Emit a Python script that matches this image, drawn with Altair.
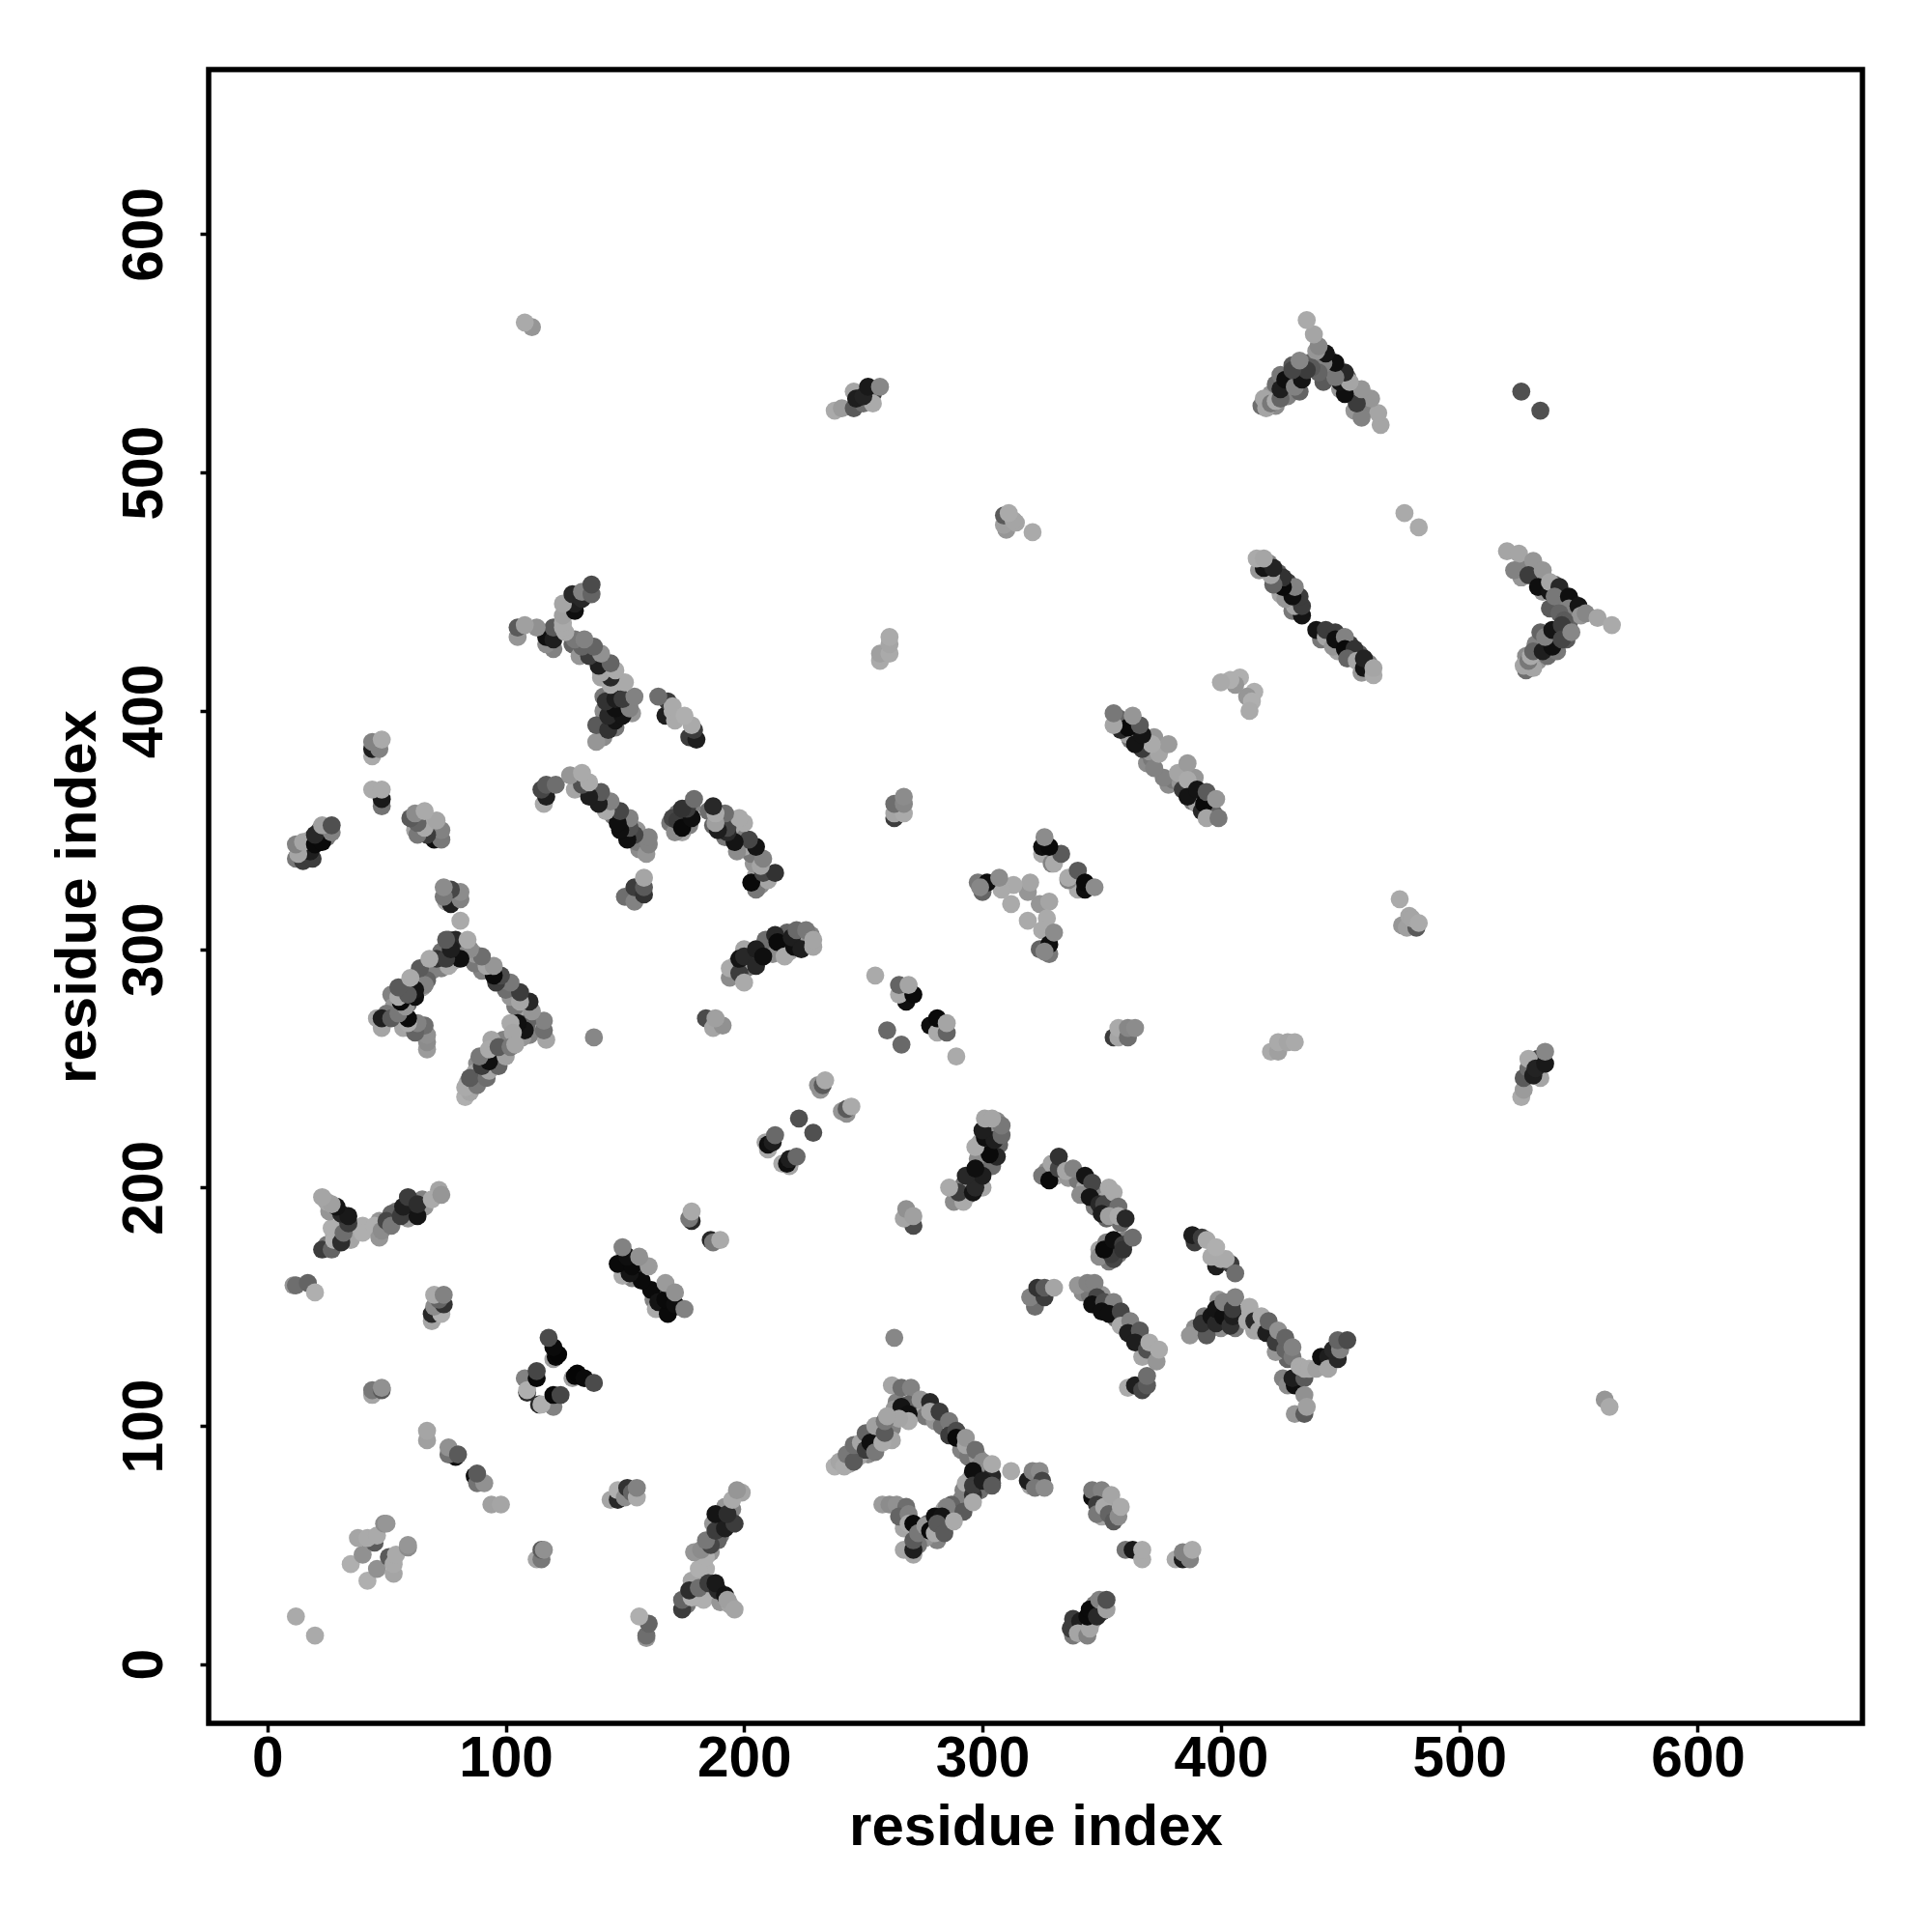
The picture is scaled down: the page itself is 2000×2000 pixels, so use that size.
import altair as alt
import pandas as pd

# Contacts (residue i, residue j, grey level 0-255); the map is symmetric, so each is drawn at (i,j) and (j,i)
near_origin = [(20,12,170),(42,35,175),(46,40,145),(53,38,165),(51,45,90),(53,42,170),(54,46,170),(59,49,140),(59,50,150)]
cl_159_15 = [(159,11,150),(159,12,110),(160,17,100),(156,20,175)]
cl_150_70 = [(144,69,165),(147,69,40),(147,73,175),(150,70,140),(151,74,50),(153,72,100),(155,70,170),(155,74,130)]
cl_115_46 = [(113,44,165),(115,44,120),(115,48,90),(116,48,145)]
cl_88_76 = [(94,67,160),(98,67,165),(87,79,15),(88,76,115),(91,76,145),(88,80,90)]
blobs_120 = [(120,108,130),(114,109,40),(115,109,175),(120,113,8),(123,113,70),(128,120,160),(129,121,8),(130,122,5),(133,120,10),(137,118,75)]
cl_165_155 = [(163,149,170),(161,157,10),(164,152,20),(168,147,10),(167,153,10),(171,151,15),(167,160,155),(171,156,145),(175,149,130)]
cl_188_178 = [(186,178,40),(187,177,120),(190,178,170)]
arm_190_up = [(184,40,175),(181,40,175),(184,45,175),(179,47,150),(182,48,140),(186,50,70),(184,52,120),(188,56,60),(192,57,30),(196,59,60),(188,63,20),(193,63,45),(195,69,170),(197,73,150)]
arm_190_low = [(174,23,60),(174,27,100),(178,28,175),(177,31,45),(181,32,110),(185,34,60),(189,31,40),(188,34,25),(192,29,20),(193,27,160),(196,23,165)]
cl_270_187 = [(271,184,75),(267,187,165),(268,191,145),(271,188,160)]
arm_300_210 = [(288,194,140),(292,194,170),(290,198,60),(286,200,170),(296,198,20),(297,200,40),(293,205,40),(300,205,30),(297,208,15),(306,213,40),(303,214,10),(297,217,170),(301,221,15),(305,220,30),(300,224,30),(308,222,105),(308,226,120),(301,229,165),(304,229,165)]
cl_360_265 = [(355,263,60),(357,263,165),(357,267,170),(361,263,110),(361,267,135),(364,267,140)]
pt_289 = [(289,255,170),(266,260,105),(263,137,135),(312,81,170)]
cl_280_270 = [(278,268,15),(281,265,170),(285,265,100),(281,271,10),(285,269,165)]
cl_243_233 = [(241,232,150),(243,231,145),(243,233,90),(245,234,170),(229,223,80)]
cl_218_211 = [(216,210,170),(219,209,165),(218,210,15),(219,212,30),(222,213,105)]
center_a = [(340,325,170),(336,329,130),(336,330,170),(340,333,90),(343,325,15),(343,328,10),(347,326,140)]
center_b = [(319,312,170),(324,319,150),(328,320,165),(327,313,170),(325,308,170),(324,300,100),(328,298,120),(328,302,15),(326,299,135),(330,307,140)]
long_375 = [(376,372,130),(382,374,165),(384,367,60),(386,378,155),(386,371,170),(386,364,20),(390,367,20),(392,358,40),(393,361,10),(394,366,90),(394,355,165),(399,355,120),(398,363,150)]
arc_340_200a = [(325,205,120),(329,210,165),(328,203,10),(332,208,70),(332,213,50),(335,207,165),(338,208,130),(343,205,20),(346,202,70),(353,200,170)]
arc_340_200b = [(341,197,140),(345,196,20),(349,193,40),(351,193,70),(350,189,30),(355,198,170),(357,192,110),(353,188,160),(357,188,170),(360,187,40),(349,171,140),(355,170,70),(354,172,60),(352,177,130),(351,174,10),(355,178,15),(359,176,60),(359,174,50),(363,179,110)]
cl_395_175 = [(398,167,30),(396,171,170),(400,170,170),(404,168,60),(402,170,170),(389,177,60),(388,180,30),(392,179,60),(394,178,170),(398,175,175),(406,164,110)]
cross_left = [(387,138,150),(394,138,90),(392,143,50),(396,146,20),(398,143,40),(398,149,20),(401,146,15),(401,152,130),(404,142,50),(405,146,30),(405,149,60),(406,154,130)]
cross_mid = [(411,144,170),(412,150,170),(414,144,40),(416,140,165),(417,146,170),(419,139,30),(420,144,100),(423,135,60),(424,140,145),(427,132,100),(427,137,100),(430,129,120),(430,133,130)]
cross_low = [(426,120,130),(428,117,140),(431,117,15),(430,120,30),(435,120,90),(431,105,150),(435,105,90),(435,113,145),(436,108,160)]
cross_right = [(433,125,170),(435,124,170),(437,124,170),(440,124,160),(442,129,15),(445,129,30),(445,124,165),(449,128,40),(447,132,40),(450,132,130),(449,136,100),(453,136,75)]
pair_562 = [(561,111,150),(563,108,170)]
cl_365_117 = [(361,116,170),(364,117,30),(367,115,70),(369,117,90),(369,121,110)]
arc_355_145 = [(340,159,150),(344,160,130),(347,160,130),(348,154,70),(346,151,15),(351,152,80),(355,152,130),(350,148,15),(353,147,15),(358,148,70),(358,142,170),(362,144,130),(361,139,30),(366,140,90),(364,135,30),(369,132,80),(370,135,170),(373,127,150),(374,132,170)]
cl_325_155 = [(322,150,110),(320,154,130),(326,154,60),(323,158,50),(326,158,90),(330,158,165)]
bracket_top = [(262,117,165),(266,116,110),(270,116,130),(269,109,100),(266,108,20),(269,105,15),(269,102,170),(265,103,165),(274,111,150),(278,110,40),(278,106,165),(282,106,60),(286,102,120),(286,96,60),(289,98,75),(289,95,10),(293,92,165),(293,95,150),(297,90,110),(300,85,140),(304,76,90),(304,79,40),(304,84,170)]
bracket_left = [(238,83,175),(240,85,165),(242,83,170),(243,88,120),(246,85,90),(246,92,110),(249,93,165),(251,90,60),(251,97,100),(253,93,15),(255,100,160),(255,89,120),(258,93,170),(259,97,90),(259,102,120),(260,104,165)]
bracket_right = [(287,67,100),(285,66,130),(292,73,130),(292,64,90),(293,76,170),(296,81,15),(296,71,50),(296,75,60),(296,68,170),(300,77,30),(304,75,90)]
bracket_low = [(258,67,155),(261,67,140),(264,67,145),(268,66,110),(265,62,100),(269,63,130),(267,48,165),(271,46,165),(271,48,30),(271,52,90),(269,59,170),(271,59,10),(273,55,120),(276,58,150),(278,56,10),(280,62,15),(280,55,170),(283,62,20),(281,59,90),(284,55,90),(288,60,170)]
cl_322_78 = [(320,75,165),(319,77,30),(321,81,130),(324,81,140),(325,77,70),(322,74,120),(326,74,140)]
cl_350_68 = [(346,70,15),(346,73,120),(350,73,130),(348,67,60),(348,63,120),(351,66,170),(353,63,100),(354,71,165),(355,60,90),(357,62,140),(358,66,170)]
cl_363_47 = [(360,48,115),(363,48,25),(367,44,170),(367,48,170)]
cl_384_46 = [(381,44,170),(384,44,30),(384,47,130),(387,44,130),(388,48,170)]
cl_345_20 = [(338,12,120),(337,15,60),(338,19,60),(341,18,30),(340,13,165),(344,12,130),(345,15,165),(344,20,10),(345,23,10),(348,20,40),(349,27,130),(352,23,160),(352,27,80)]
cl_412_404 = [(414,408,175),(411,406,150),(413,404,175),(412,400,170)]
cl_480_312 = [(475,321,170),(476,310,150),(478,309,160),(479,314,165),(482,309,90),(480,313,165),(483,311,170)]
cl_425_259 = [(421,257,170),(424,257,160),(424,261,170),(428,261,165),(431,261,170)]
cl_532_248 = [(526,238,170),(527,241,155),(527,246,90),(534,246,165),(529,250,110),(529,254,170),(531,247,30),(532,250,35),(536,252,25),(536,257,135)]
pairs_far = [(534,526,80),(483,477,170)]
v_upper = [(520,467,165),(525,466,165),(523,459,130),(531,463,150),(529,457,60),(535,459,150),(533,452,15),(538,450,20),(538,454,165),(542,452,40),(540,448,120),(546,448,15),(546,443,130),(542,441,100),(550,444,20),(551,440,150),(544,438,90),(553,441,135),(558,439,165),(564,436,170)]
v_lower = [(528,417,110),(527,419,165),(531,418,165),(529,421,120),(530,423,170),(531,425,100),(535,425,30),(539,427,15),(536,431,130),(539,434,20),(543,436,60),(543,430,70),(547,433,135)]
helix_450 = [(440,434,20),(444,431,165),(444,434,60),(448,433,60),(447,427,150),(448,430,15),(452,431,130),(452,426,10),(456,426,50),(453,422,100),(457,421,165),(460,418,20),(460,422,35),(464,415,170),(464,418,165)]

# Mid-grey contacts that lie under the dark ones along the dense arms
under_arm_up = [(186,47,150),(190,54,120),(190,60,140),(194,60,110),(195,65,130),(192,66,150),(199,72,165),(189,52,100),(187,59,150)]
under_arm_low = [(176,25,120),(180,28,165),(183,30,150),(187,33,130),(183,27,175),(190,26,150),(194,25,165),(180,36,170),(178,35,165)]
under_arm_300 = [(292,201,120),(295,203,165),(299,209,130),(298,212,140),(303,218,120),(299,219,165),(304,209,110),(303,226,150),(306,228,135),(307,218,100),(294,197,130),(300,200,165)]
under_arc_355 = [(342,156,140),(345,155,120),(350,155,150),(352,149,165),(355,147,140),(356,145,120),(359,145,100),(360,141,165),(363,139,150),(366,136,130),(368,135,100),(367,129,165)]
under_arc_340 = [(327,207,140),(331,205,165),(336,204,150),(340,203,120),(343,200,165),(346,198,100),(349,197,130),(352,195,165),(354,191,140),(347,192,120),(352,187,100),(358,185,110),(360,178,130),(356,175,100),(353,169,120),(349,174,165),(357,172,120)]
under_long = [(378,369,140),(380,371,120),(383,370,150),(388,362,120),(390,361,165),(396,358,130),(389,372,150),(396,361,165),(397,357,100)]
under_cross = [(389,141,140),(393,146,120),(396,141,165),(400,141,140),(402,149,110),(399,153,150),(406,141,120),(403,151,165),(410,146,170),(414,140,165),(418,143,120),(421,139,140),(425,134,120),(428,128,100),(423,131,150)]
under_bracket = [(264,110,130),(272,108,165),(276,104,120),(280,102,150),(283,100,110),(287,98,165),(291,90,130),(294,87,120),(298,87,150),(301,80,130),(299,73,110),(295,78,165),(291,69,130),(288,63,120),(284,65,165),(281,52,130),(276,53,150),(273,50,120),(277,59,110),(267,57,165),(266,63,140),(256,95,120),(252,88,140),(248,87,165),(256,93,110),(244,84,165),(262,99,130),(263,107,150),(257,100,120),(262,94,165)]
under_v_upper = [(527,462,130),(532,458,140),(536,455,130),(540,453,100),(541,444,165),(544,446,130),(548,440,120),(535,450,150),(548,445,130),(538,443,90),(526,456,150)]
under_v_lower = [(533,421,150),(537,423,110),(541,425,120),(538,429,165),(541,433,130),(532,428,130),(534,433,100),(528,423,140),(529,418,100),(545,430,90),(546,437,100)]
under_helix = [(442,430,120),(446,431,120),(450,428,130),(449,425,165),(455,423,120),(454,428,60),(458,424,90),(462,420,130),(459,416,150)]
under_small = [(162,153,130),(165,150,165),(169,153,100),(166,156,60),(172,150,140),(352,69,120),(350,62,165),(356,64,100),(342,14,140),(347,25,120),(340,16,100),(346,18,165),(350,22,60),(343,17,150),(533,254,60),(531,252,120)]

clusters = [under_arm_up, under_arm_low, under_arm_300, under_arc_355, under_arc_340, under_long, under_cross,
            under_bracket, under_v_upper, under_v_lower, under_helix, under_small,
            near_origin, cl_159_15, cl_150_70, cl_115_46, cl_88_76, blobs_120, cl_165_155, cl_188_178,
            arm_190_up, arm_190_low, cl_270_187, arm_300_210, cl_360_265, pt_289, cl_280_270, cl_243_233,
            cl_218_211, center_a, center_b, long_375, arc_340_200a, arc_340_200b, cl_395_175, cross_left,
            cross_mid, cross_low, cross_right, pair_562, cl_365_117, arc_355_145, cl_325_155, bracket_top,
            bracket_left, bracket_right, bracket_low, cl_322_78, cl_350_68, cl_363_47, cl_384_46, cl_345_20,
            cl_412_404, cl_480_312, cl_425_259, cl_532_248, pairs_far, v_upper, v_lower, helix_450]

tick_values = [0, 100, 200, 300, 400, 500, 600]
axis_title = "residue index"

rows = []
for cluster in clusters:
    for i, j, g in cluster:
        c = "#%02x%02x%02x" % (g, g, g)
        rows.append({"x": i, "y": j, "c": c})
        rows.append({"x": j, "y": i, "c": c})
df = pd.DataFrame(rows)

font = "Liberation Sans"
x_axis = alt.Axis(values=tick_values, grid=False, domain=False, tickColor="black", tickWidth=3.5, tickSize=9,
                  labelFont=font, labelFontWeight="bold", labelFontSize=58.5, labelColor="black",
                  labelBaseline="alphabetic", labelPadding=45, labelFlush=False, labelOverlap=False, format="d",
                  title=axis_title, titleFont=font, titleFontWeight="bold", titleFontSize=60, titleColor="black",
                  titleBaseline="alphabetic", titleY=125)
y_axis = alt.Axis(values=tick_values, grid=False, domain=False, tickColor="black", tickWidth=3.5, tickSize=9,
                  labelFont=font, labelFontWeight="bold", labelFontSize=58.5, labelColor="black",
                  labelAngle=270, labelAlign="center", labelBaseline="alphabetic", labelPadding=40,
                  labelFlush=False, labelOverlap=False, format="d",
                  title=axis_title, titleFont=font, titleFontWeight="bold", titleFontSize=60, titleColor="black",
                  titleAngle=270, titleBaseline="alphabetic", titleX=-118)

chart = (
    alt.Chart(df)
    .mark_circle(size=350, opacity=1)
    .encode(
        x=alt.X("x:Q", scale=alt.Scale(domain=[-24.6, 669.1], nice=False, zero=False), axis=x_axis),
        y=alt.Y("y:Q", scale=alt.Scale(domain=[-24.8, 669.1], nice=False, zero=False), axis=y_axis),
        color=alt.Color("c:N", scale=None),
    )
    .properties(width=1712, height=1712, background="white", autosize=alt.AutoSizeParams(type="none"),
                padding={"left": 208, "top": 64, "right": 64, "bottom": 200})
    .configure_view(stroke="black", strokeWidth=5.5, fill="white")
)
chart.save("out.html", embed_options={"renderer": "svg", "actions": False})
